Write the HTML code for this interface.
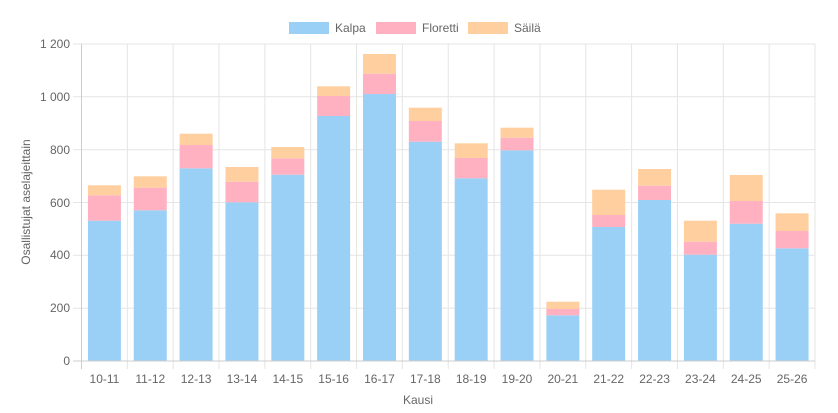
<!DOCTYPE html><html><head><meta charset="utf-8"><style>body{margin:0;background:#fff}svg{display:block;font-family:"Liberation Sans",Arial,sans-serif}</style></head><body>
<svg width="838" height="413" xmlns="http://www.w3.org/2000/svg">
<g stroke="#e5e5e5" stroke-width="1">
<line x1="73" x2="815" y1="44" y2="44"/><line x1="73" x2="815" y1="96.8" y2="96.8"/><line x1="73" x2="815" y1="149.7" y2="149.7"/><line x1="73" x2="815" y1="202.5" y2="202.5"/><line x1="73" x2="815" y1="255.3" y2="255.3"/><line x1="73" x2="815" y1="308.2" y2="308.2"/>
</g>
<g id="v" stroke="#e5e5e5"></g>
<g id="bars"></g>
<line x1="73" x2="815" y1="361" y2="361" stroke="#ccc"/>
<line x1="81.5" x2="81.5" y1="44" y2="369" stroke="#ccc"/>
<g font-size="12" fill="#666" text-anchor="end">
<text x="70" y="48">1 200</text><text x="70" y="101">1 000</text><text x="70" y="154">800</text><text x="70" y="207">600</text><text x="70" y="259">400</text><text x="70" y="312">200</text><text x="70" y="365">0</text>
</g>
<g id="xl" font-size="12" fill="#666" text-anchor="middle"></g>
<text x="418" y="404" font-size="12" fill="#666" text-anchor="middle">Kausi</text>
<text transform="translate(30,202) rotate(-90)" font-size="12" fill="#666" text-anchor="middle">Osallistujat aselajeittain</text>
<rect x="289" y="22" width="40" height="12" fill="#9ad0f5"/><text x="335" y="32" font-size="12" fill="#666">Kalpa</text>
<rect x="376" y="22" width="40" height="12" fill="#ffb1c1"/><text x="422" y="32" font-size="12" fill="#666">Floretti</text>
<rect x="468" y="22" width="40" height="12" fill="#ffcf9f"/><text x="514" y="32" font-size="12" fill="#666">Säilä</text>
</svg>
<script>
var d=[[220.7,195.3,185.3],[210.3,187.7,176.3],[168.3,145,133.7],[202.3,181.7,167],[174.7,158.3,147],[116,96,86.3],[94,73.7,54],[141.7,121,107.7],[178.3,158,143.3],[150.3,137.7,127.7],[315.3,309,301.7],[227,215,189.7],[200,185.7,169],[254.7,241.7,220.7],[223.7,201,175],[248.3,231,213.3]];
var L=["10-11","11-12","12-13","13-14","14-15","15-16","16-17","17-18","18-19","19-20","20-21","21-22","22-23","23-24","24-25","25-26"];
var ns="http://www.w3.org/2000/svg",w=(815-81.5)/16,b="",v="",x="";
for(var i=0;i<16;i++){var c=81.5+w*(i+.5),l=c-16.5,k=d[i];
v+='<line x1="'+(81.5+w*(i+1))+'" x2="'+(81.5+w*(i+1))+'" y1="44" y2="369"/>';
b+='<rect x="'+l+'" y="'+k[0]+'" width="33" height="'+(361-k[0])+'" fill="#9ad0f5"/>';
b+='<rect x="'+l+'" y="'+k[1]+'" width="33" height="'+(k[0]-k[1])+'" fill="#ffb1c1"/>';
b+='<rect x="'+l+'" y="'+k[2]+'" width="33" height="'+(k[1]-k[2])+'" fill="#ffcf9f"/>';
x+='<text x="'+c+'" y="383">'+L[i]+'</text>';}
document.getElementById("v").innerHTML=v;document.getElementById("bars").innerHTML=b;document.getElementById("xl").innerHTML=x;
</script>
</body></html>
